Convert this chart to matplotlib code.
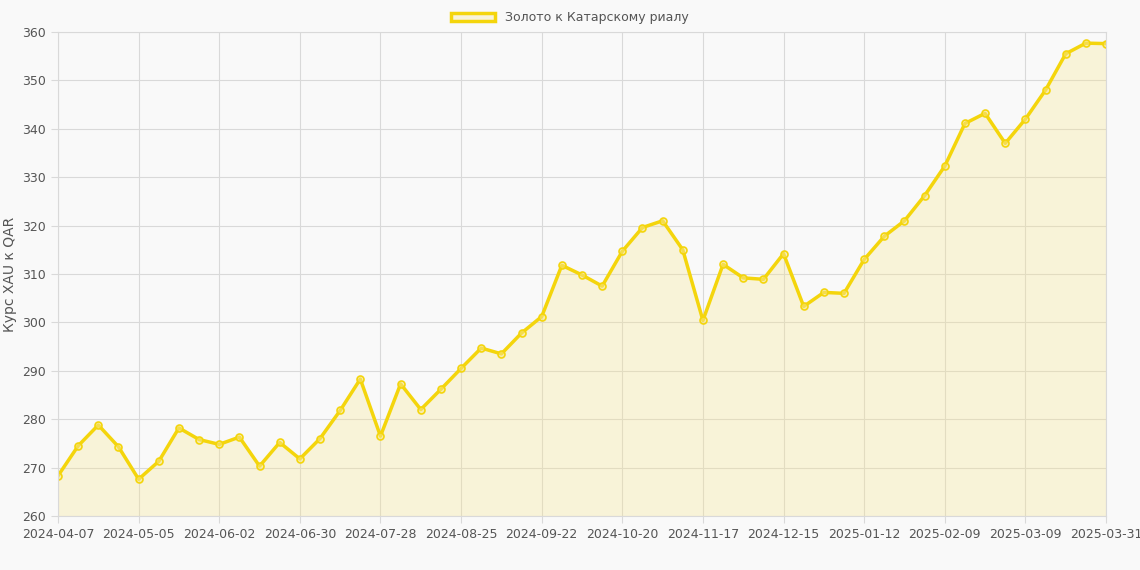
import matplotlib
matplotlib.use("Agg")
import matplotlib.pyplot as plt
from matplotlib.patches import Patch

labels_all = ["2024-04-07","2024-05-05","2024-06-02","2024-06-30","2024-07-28","2024-08-25",
              "2024-09-22","2024-10-20","2024-11-17","2024-12-15","2025-01-12","2025-02-09",
              "2025-03-09","2025-03-31"]
tick_idx = [0,4,8,12,16,20,24,28,32,36,40,44,48,52]
values = [268.3,274.5,278.8,274.3,267.6,271.3,278.2,275.8,274.8,276.3,270.3,275.2,271.8,276.0,
          281.8,288.3,276.5,287.3,282.0,286.2,290.5,294.7,293.5,297.8,301.2,311.8,309.8,307.5,
          314.7,319.6,321.0,315.0,300.4,312.0,309.2,308.9,314.2,303.3,306.2,306.0,313.0,317.8,
          321.0,326.2,332.3,341.1,343.2,337.0,342.0,348.0,355.5,357.7,357.6]

line_c = "#f4d50c"
fill_c = (0.97, 0.90, 0.55, 0.3)
fig = plt.figure(figsize=(11.4, 5.7), dpi=100, facecolor="#f9f9f9")
ax = fig.add_axes([58/1140, 1-516/570, (1106-58)/1140, (516-32)/570])
ax.set_facecolor("#f9f9f9")
x = list(range(len(values)))
ax.fill_between(x, values, 260, color=fill_c, lw=0)
ax.plot(x, values, color=line_c, lw=2.5, marker="o", ms=5, mfc=(0.97,0.90,0.55,0.5), mec=line_c, mew=1.2)
ax.set_xlim(0, 52)
ax.set_ylim(260, 360)
ax.set_yticks(range(260, 361, 10))
ax.set_xticks(tick_idx)
ax.set_xticklabels(labels_all)
ax.grid(True, color="#d9d9d9", lw=0.8)
ax.set_axisbelow(True)
for s in ax.spines.values():
    s.set_color("#d9d9d9")
ax.tick_params(colors="#555555", labelsize=9, length=5, color="#d9d9d9")
ax.set_ylabel("Курс XAU к QAR", color="#555555", fontsize=10)
fig.legend(handles=[Patch(facecolor=fill_c, edgecolor=line_c, lw=2.5)],
           labels=["Золото к Катарскому риалу"], loc="upper center", bbox_to_anchor=(0.5, 1.0),
           frameon=False, fontsize=9, labelcolor="#555555", handlelength=3.5)
fig.savefig("out.png", dpi=100, facecolor=fig.get_facecolor())
